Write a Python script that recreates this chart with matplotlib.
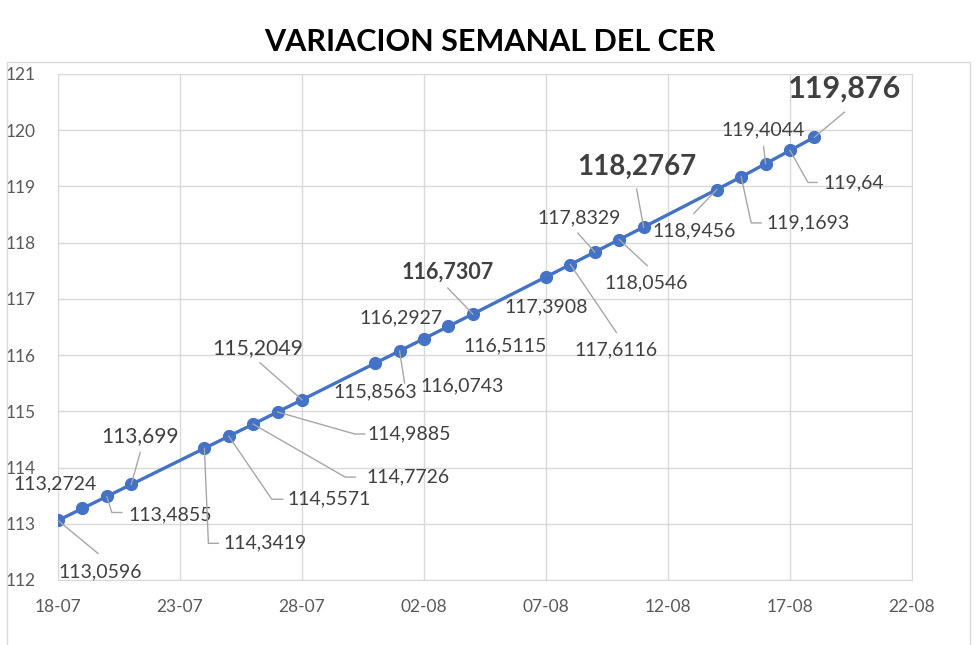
import datetime as dt
import matplotlib
matplotlib.use("Agg")
import matplotlib.pyplot as plt
import matplotlib.dates as mdates
from matplotlib.lines import Line2D
from matplotlib.patches import Rectangle
from matplotlib.transforms import IdentityTransform

plt.rcParams['font.family'] = ['Lato', 'DejaVu Sans']

# data
fechas = ["18-07", "19-07", "20-07", "21-07", "24-07", "25-07", "26-07", "27-07",
          "28-07", "31-07", "01-08", "02-08", "03-08", "04-08", "07-08", "08-08",
          "09-08", "10-08", "11-08", "14-08", "15-08", "16-08", "17-08", "18-08"]
cer = [113.0596, 113.2724, 113.4855, 113.699, 114.3419, 114.5571, 114.7726, 114.9885,
       115.2049, 115.8563, 116.0743, 116.2927, 116.5115, 116.7307, 117.3908, 117.6116,
       117.8329, 118.0546, 118.2767, 118.9456, 119.1693, 119.4044, 119.64, 119.876]
etiquetas = ["113,0596", "113,2724", "113,4855", "113,699", "114,3419", "114,5571",
             "114,7726", "114,9885", "115,2049", "115,8563", "116,0743", "116,2927",
             "116,5115", "116,7307", "117,3908", "117,6116", "117,8329", "118,0546",
             "118,2767", "118,9456", "119,1693", "119,4044", "119,64", "119,876"]

# layout of data labels: text offset (px) and leader vertices (px offsets from point)
lbl_off = [(42, -51), (-27, 25), (63, -18), (9, 48), (61, -95), (100, -63),
           (155, -53), (132, -22), (-44, 52), (0, -29), (63, -35), (-23, 21),
           (57, -20), (-25, 42), (0, -30), (46, -85), (-16, 34), (27, -43),
           (-7, 60), (-23, -41), (67, -46), (-3, 34), (64, -32), (30, 49)]
leaders = [[(0, 0), (40, -33)], None, [(0, 0), (5, -16), (15, -16)], [(0, 0), (9, 32)],
           [(0, 0), (4, -95), (14, -95)], [(0, 0), (43, -63), (54, -63)],
           [(0, 0), (92, -53), (102, -53)], [(0, 0), (77, -22), (87, -22)],
           [(0, 0), (-42, 37)], None, [(0, 0), (5, -32)], None, None,
           [(0, 0), (-25, 26)], None, [(0, 0), (46, -68)], [(0, 0), (-17, 19)],
           [(0, 0), (28, -26)], [(0, 0), (-7, 38)], [(0, 0), (-23, -24)],
           [(0, 0), (10, -46), (20, -46)], [(0, 0), (-2, 17)],
           [(0, 0), (18, -32), (27, -32)], [(0, 0), (30, 25)]]
# special label styles: index -> (size, weight)
estilos = {3: (15, 'normal'), 8: (15.3, 'normal'), 13: (15.5, 'bold'),
           18: (20, 'bold'), 23: (22, 'bold')}

fechas_dt = [dt.datetime.strptime(f + "-2023", "%d-%m-%Y") for f in fechas]

fig = plt.figure(figsize=(9.8, 6.45), dpi=100)
ax = fig.add_axes([58 / 980, 1 - 580 / 645, (912 - 58) / 980, (580 - 74) / 645])

fig.add_artist(Rectangle((7 / 980, -0.01), (970 - 7) / 980, (645 - 62) / 645 + 0.01,
                         transform=fig.transFigure, fill=False, edgecolor='#D9D9D9', lw=1))
fig.text(0.5, 1 - 42 / 645, "VARIACION SEMANAL DEL CER", ha='center', va='center',
         fontsize=22, fontweight='bold', color='black')

ax.plot(fechas_dt, cer, color='#4472C4', lw=2.4, marker='o', markersize=8.5, zorder=3)

ax.set_xlim(dt.datetime(2023, 7, 18), dt.datetime(2023, 8, 22))
ax.set_ylim(112, 121)
ax.set_xticks([dt.datetime(2023, 7, 18) + dt.timedelta(days=5 * i) for i in range(8)])
ax.xaxis.set_major_formatter(mdates.DateFormatter('%d-%m'))
ax.set_yticks(range(112, 122))
ax.grid(True, color='#D9D9D9', lw=1)
ax.set_axisbelow(True)
for s in ax.spines.values():
    s.set_color('#D9D9D9')
ax.tick_params(length=0, labelsize=12.5, labelcolor='#595959')
ax.tick_params(axis='y', pad=16)
ax.tick_params(axis='x', pad=14)

fig.canvas.draw()
for i, (d, v, txt) in enumerate(zip(fechas_dt, cer, etiquetas)):
    size, weight = estilos.get(i, (14, 'normal'))
    ax.annotate(txt, (d, v), xytext=lbl_off[i], textcoords='offset pixels',
                ha='center', va='center', fontsize=size, fontweight=weight,
                color='#404040', zorder=4)
    if leaders[i]:
        px, py = ax.transData.transform((mdates.date2num(d), v))
        xs = [px + a for a, b in leaders[i]]
        ys = [py + b for a, b in leaders[i]]
        fig.add_artist(Line2D(xs, ys, transform=IdentityTransform(), color='#A6A6A6',
                              lw=1, zorder=2))

fig.savefig("out.png", dpi=100)
